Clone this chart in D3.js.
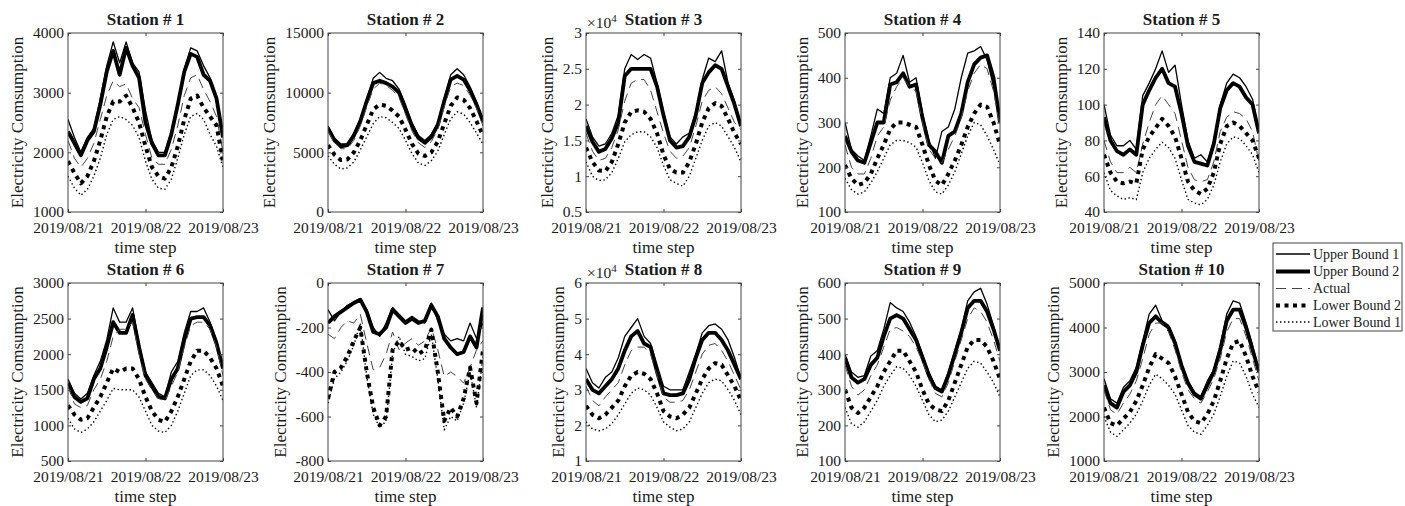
<!DOCTYPE html>
<html>
<head>
<meta charset="utf-8">
<script src="https://cdn.jsdelivr.net/npm/d3@7"></script>
<style>
  body { margin: 0; background: #fff; }
  svg text { font-family: "Liberation Serif", "Times New Roman", serif; fill: #1a1a1a; }
</style>
</head>
<body>
<svg id="chart" width="1405" height="506"></svg>
<script>
// hours after 2019/08/21 00:00, one sample every 2 h
const hours = [0, 2, 4, 6, 8, 10, 12, 14, 16, 18, 20, 22, 24, 26, 28, 30, 32, 34, 36, 38, 40, 42, 44, 46, 48];

const stations = ['Station # 1', 'Station # 2', 'Station # 3', 'Station # 4', 'Station # 5',
                  'Station # 6', 'Station # 7', 'Station # 8', 'Station # 9', 'Station # 10'];
const xTickLabels = ['2019/08/21', '2019/08/22', '2019/08/23'];
const seriesNames = ['Upper Bound 1', 'Upper Bound 2', 'Actual', 'Lower Bound 2', 'Lower Bound 1'];

const yMin  = [1000, 0,     5000,  100, 40,  500,  -800, 10000, 100, 1000];
const yMax  = [4000, 15000, 30000, 500, 140, 3000, 0,    60000, 600, 5000];
const yStep = [1000, 5000,  5000,  100, 20,  500,  200,  10000, 100, 1000];
const yExp  = [0,    0,     4,     0,   0,   0,    0,    4,     0,   0];

// one row per station
const upperBound1 = [
  [2550,2250,2000,2250,2400,2900,3450,3850,3500,3850,3500,3350,2700,2200,2000,2000,2350,2850,3400,3750,3700,3450,3250,2950,2300],
  [7200,6200,5700,5700,6600,7800,9500,11200,11700,11200,11000,10300,9000,7500,6400,6000,6500,7500,9500,11500,12000,11500,10500,9200,7500],
  [18000,15500,14200,14500,16000,18500,25000,27000,26300,27000,26500,23000,19000,15500,14500,15500,16000,19000,23500,26500,26000,27500,23000,20500,17000],
  [300,240,225,215,270,330,320,400,410,450,390,400,320,260,220,280,290,330,400,455,460,470,440,380,300],
  [100,83,77,77,80,75,105,112,120,130,118,122,100,80,70,72,68,80,100,112,117,115,110,103,85],
  [1650,1450,1370,1450,1700,1900,2200,2650,2450,2450,2650,2150,1750,1600,1450,1400,1750,1900,2300,2600,2600,2650,2450,2200,1800],
  [-120,-170,-130,-100,-85,-70,-120,-200,-240,-180,-110,-140,-170,-150,-170,-180,-90,-170,-230,-260,-250,-260,-180,-250,-180],
  [36000,32000,30500,33500,35000,39000,45000,47500,50000,45000,43000,37000,31000,30000,30000,30000,35000,40000,46000,48000,48500,47000,44000,39000,33000],
  [400,350,335,340,395,410,470,545,530,520,490,450,400,350,310,300,350,410,470,550,575,585,540,480,410],
  [2850,2400,2300,2650,2800,3100,3700,4300,4500,4150,4050,3700,3200,2800,2550,2450,2800,3050,3600,4300,4600,4550,4100,3600,3000]
];
const upperBound2 = [
  [2350,2150,1950,2200,2350,2800,3350,3700,3300,3750,3450,3250,2500,2150,1950,1950,2300,2800,3350,3650,3600,3300,3200,2900,2250],
  [7000,6000,5500,5600,6400,7600,9300,10800,11000,10800,10500,10000,8600,7200,6200,5800,6300,7300,9300,11100,11400,11100,10200,9000,7600],
  [17000,14800,13400,13800,15300,17500,24000,25000,25000,25000,25000,22500,18500,15000,14000,14200,15500,18500,23000,24500,25500,25000,22500,20000,17000],
  [270,235,215,210,255,300,300,385,390,410,380,385,310,250,235,210,270,280,320,390,430,445,450,400,300],
  [93,80,74,72,75,72,100,108,115,120,112,110,95,77,68,67,66,78,98,108,112,110,104,100,84],
  [1600,1400,1330,1380,1650,1800,2100,2450,2300,2300,2550,2100,1700,1550,1400,1380,1650,1800,2200,2500,2520,2520,2400,2150,1800],
  [-180,-150,-130,-110,-90,-75,-130,-220,-230,-200,-120,-150,-180,-160,-180,-170,-100,-150,-250,-290,-320,-310,-240,-290,-110],
  [33000,30000,29000,31000,33000,36000,41000,45000,46500,43000,42000,35000,29000,28500,28500,29000,33000,39000,44000,46000,46000,44000,41000,37000,33000],
  [390,335,320,330,370,390,450,500,510,500,470,440,390,340,305,295,340,400,460,530,550,550,520,470,410],
  [2700,2300,2200,2550,2700,3000,3600,4100,4250,4100,4000,3650,3150,2750,2500,2400,2700,3000,3500,4150,4400,4400,4000,3500,3000]
];
const actual = [
  [2200,1900,1750,1900,2150,2550,2950,3200,3100,3150,2900,2750,2300,1900,1800,1800,2050,2450,2950,3250,3300,3050,2850,2600,2000],
  [6800,5800,5300,5300,6000,7200,8800,10300,10800,10600,10200,9600,8200,6800,5800,5400,5900,6900,8800,10500,10800,10600,9800,8700,7200],
  [16000,13500,12200,12500,14000,16500,20500,23000,23500,23500,22000,19000,16000,13500,12500,12800,14000,17000,20500,22000,22500,21500,19500,17500,16500],
  [250,200,185,185,220,270,290,350,380,400,380,370,300,240,220,210,240,270,310,370,410,430,420,370,290],
  [80,68,62,62,65,62,78,90,100,105,100,95,80,65,58,57,58,68,85,93,96,95,92,85,68],
  [1550,1300,1250,1280,1500,1650,1900,2250,2350,2350,2450,2000,1650,1500,1380,1340,1550,1750,2100,2400,2450,2450,2350,2100,1700],
  [-230,-250,-200,-170,-180,-140,-270,-390,-380,-320,-220,-300,-270,-250,-280,-260,-200,-300,-420,-400,-420,-450,-380,-300,-260],
  [31000,27000,25500,28000,30000,32000,37000,41000,42000,42000,40000,34000,28000,26500,26500,27000,30000,35000,40000,42500,43000,41000,38000,34000,30000],
  [370,310,285,300,340,370,420,470,475,465,450,420,380,330,290,280,320,380,440,500,530,520,490,440,380],
  [2600,2150,2050,2300,2500,2800,3300,3850,4100,4100,3900,3500,3000,2600,2400,2300,2550,2850,3300,3900,4200,4200,3800,3300,2800]
];
const lowerBound2 = [
  [1850,1650,1480,1600,1850,2200,2600,2850,2850,2950,2750,2500,2100,1750,1600,1560,1750,2100,2550,2900,2950,2750,2600,2450,1850],
  [5600,4800,4350,4400,5000,6000,7300,8600,9000,8900,8500,8000,6900,5700,4900,4700,5000,5900,7400,8900,9600,9400,8700,7600,6400],
  [14000,12000,10800,10700,12000,14500,17500,19000,19200,19000,18000,16000,13000,11000,10500,10500,12000,14500,17500,19500,20200,19800,18000,16000,14500],
  [205,175,160,165,185,220,250,285,300,300,295,290,250,205,170,160,185,215,250,290,320,340,335,300,250],
  [72,62,57,56,57,56,75,82,87,92,88,82,70,57,52,50,53,62,78,88,90,88,84,80,70],
  [1280,1150,1080,1100,1250,1400,1600,1800,1750,1800,1800,1650,1400,1200,1080,1050,1200,1400,1650,1900,2050,2050,1950,1800,1550],
  [-520,-400,-380,-330,-260,-200,-400,-560,-640,-600,-300,-260,-300,-290,-320,-300,-210,-400,-620,-560,-600,-520,-380,-540,-300],
  [25500,23000,22000,23000,25000,27000,31000,34000,35000,34500,33000,29000,24000,22500,22000,23000,25000,29000,33000,36000,37500,37000,34000,31000,27000],
  [300,250,235,250,280,310,350,380,410,410,380,350,300,260,245,240,270,320,370,420,440,440,420,380,330],
  [2200,1850,1800,1950,2100,2350,2700,3100,3400,3300,3200,2900,2500,2100,1900,1850,2050,2350,2800,3300,3650,3700,3350,2900,2550]
];
const lowerBound1 = [
  [1600,1400,1280,1380,1600,1900,2300,2550,2600,2550,2450,2250,1850,1550,1400,1380,1550,1900,2300,2600,2650,2550,2300,2100,1750],
  [4700,4000,3600,3700,4200,5200,6300,7400,8000,7900,7500,7000,6000,4900,4100,3900,4300,5100,6500,7800,8400,8200,7500,6600,5700],
  [12000,10000,9400,9500,10500,12500,14800,15800,16200,16200,15500,14000,11500,9500,9000,8600,10000,12500,15000,17000,17500,17000,15500,14000,12000],
  [175,150,140,145,165,190,220,250,260,260,255,245,210,170,145,140,160,190,230,270,300,295,270,240,205],
  [62,52,49,47,48,47,62,70,75,79,76,70,58,47,45,44,47,55,68,78,82,81,77,72,62],
  [1100,950,900,950,1050,1200,1350,1520,1500,1500,1500,1400,1200,1000,920,900,1000,1200,1450,1700,1780,1780,1700,1550,1350],
  [-540,-430,-400,-350,-280,-180,-420,-590,-650,-620,-320,-240,-320,-330,-350,-340,-230,-430,-660,-600,-620,-540,-400,-560,-330],
  [21000,19000,18500,19000,20500,23000,26000,29000,30500,30000,28500,25000,21000,19500,18500,19000,21000,25000,29000,32000,33000,32500,30000,27000,23000],
  [250,205,195,210,240,270,310,340,365,360,340,310,270,230,210,215,240,280,320,360,380,375,350,320,280],
  [2000,1650,1550,1700,1850,2050,2350,2700,2950,2850,2700,2500,2150,1800,1650,1600,1800,2050,2450,2900,3250,3200,2900,2500,2200]
];

const series = [upperBound1, upperBound2, actual, lowerBound2, lowerBound1];
const styles = [
  { w: 1.3, dash: null,      color: '#000' },
  { w: 3.8, dash: null,      color: '#000' },
  { w: 1,   dash: '10,6',    color: '#444' },
  { w: 4,   dash: '4,4.5',   color: '#000' },
  { w: 1.4, dash: '1.4,2.6', color: '#000' }
];

const svg = d3.select('#chart');
const W = 155;
const lefts = [68, 328, 586, 845, 1104];
const tops = [33, 283];
const heights = [179, 178];
const xLabelY = [21, 21];
const boxColor = '#444';

const parse = d3.timeParse('%Y/%m/%d');
const t0 = parse(xTickLabels[0]);
const t1 = parse(xTickLabels[2]);
const xTicks = xTickLabels.map(parse);

stations.forEach((name, i) => {
  const row = Math.floor(i / 5), col = i % 5;
  const h = heights[row];
  const g = svg.append('g').attr('transform', `translate(${lefts[col]},${tops[row]})`);

  const x = d3.scaleTime().domain([t0, t1]).range([0, W]);
  const y = d3.scaleLinear().domain([yMin[i], yMax[i]]).range([h, 0]);
  const yTicks = d3.range(yMin[i], yMax[i] + yStep[i] / 2, yStep[i]);
  const scale = Math.pow(10, yExp[i]);

  g.append('clipPath').attr('id', `clip${i}`)
    .append('rect').attr('width', W).attr('height', h);

  g.append('rect').attr('width', W).attr('height', h).attr('fill', '#fff');

  const line = d3.line()
    .x((d, k) => x(d3.timeHour.offset(t0, hours[k])))
    .y(d => y(d));

  const lines = g.append('g').attr('clip-path', `url(#clip${i})`);
  series.forEach((s, k) => {
    lines.append('path')
      .datum(s[i])
      .attr('d', line)
      .attr('fill', 'none')
      .attr('stroke', styles[k].color)
      .attr('stroke-width', styles[k].w)
      .attr('stroke-dasharray', styles[k].dash)
      .attr('stroke-linejoin', 'round');
  });

  // axes, ticks pointing inwards like matlab
  const yAxis = g.append('g')
    .call(d3.axisLeft(y).tickValues(yTicks).tickSize(-3).tickPadding(4)
      .tickFormat(d => String(+(d / scale).toFixed(1))));
  g.append('g').attr('transform', `translate(${W},0)`)
    .call(d3.axisRight(y).tickValues(yTicks).tickSize(-3).tickFormat(''));
  const xAxis = g.append('g').attr('transform', `translate(0,${h})`)
    .call(d3.axisBottom(x).tickValues(xTicks).tickSize(-3).tickFormat(d3.timeFormat('%Y/%m/%d')));
  g.append('g')
    .call(d3.axisTop(x).tickValues(xTicks).tickSize(-3).tickFormat(''));

  g.selectAll('.domain').remove();
  g.selectAll('.tick line').attr('stroke', boxColor);
  g.selectAll('.tick text').attr('fill', '#1a1a1a').style('font-family', '"Liberation Serif", serif');
  yAxis.selectAll('text').style('font-size', '15.5px');
  xAxis.selectAll('text').style('font-size', '15.5px').attr('y', xLabelY[row]).attr('dy', null);

  g.append('rect').attr('width', W).attr('height', h)
    .attr('fill', 'none').attr('stroke', boxColor).attr('stroke-width', 1);

  // y label sits left of widest tick label
  let maxw = 0;
  yAxis.selectAll('text').each(function () { maxw = Math.max(maxw, this.getComputedTextLength()); });
  g.append('text')
    .attr('transform', `translate(${-(4 + maxw + 10)},${h / 2}) rotate(-90)`)
    .attr('text-anchor', 'middle')
    .style('font-size', '17px')
    .text('Electricity Comsumption');

  g.append('text')
    .attr('x', W / 2).attr('y', h + 41)
    .attr('text-anchor', 'middle')
    .style('font-size', '17px')
    .text('time step');

  g.append('text')
    .attr('x', W / 2).attr('y', -8)
    .attr('text-anchor', 'middle')
    .style('font-size', '17px').style('font-weight', 'bold')
    .text(name);

  if (yExp[i]) {
    const ex = g.append('text').attr('x', 1).attr('y', -5).style('font-size', '15.5px');
    ex.append('tspan').text('\u00d710');
    ex.append('tspan').attr('dy', -6).style('font-size', '11px').text(yExp[i]);
  }
});

// legend
const legend = svg.append('g').attr('transform', 'translate(1273,243)');
legend.append('rect').attr('width', 129).attr('height', 88)
  .attr('fill', '#fff').attr('stroke', boxColor).attr('stroke-width', 1);
const legendY = [11, 28.5, 45.5, 62.5, 79];
seriesNames.forEach((n, k) => {
  legend.append('line')
    .attr('x1', 3).attr('x2', 37).attr('y1', legendY[k]).attr('y2', legendY[k])
    .attr('stroke', styles[k].color)
    .attr('stroke-width', styles[k].w)
    .attr('stroke-dasharray', styles[k].dash);
  legend.append('text')
    .attr('x', 40).attr('y', legendY[k]).attr('dy', '0.35em')
    .style('font-size', '14px')
    .text(n);
});
</script>
</body>
</html>
